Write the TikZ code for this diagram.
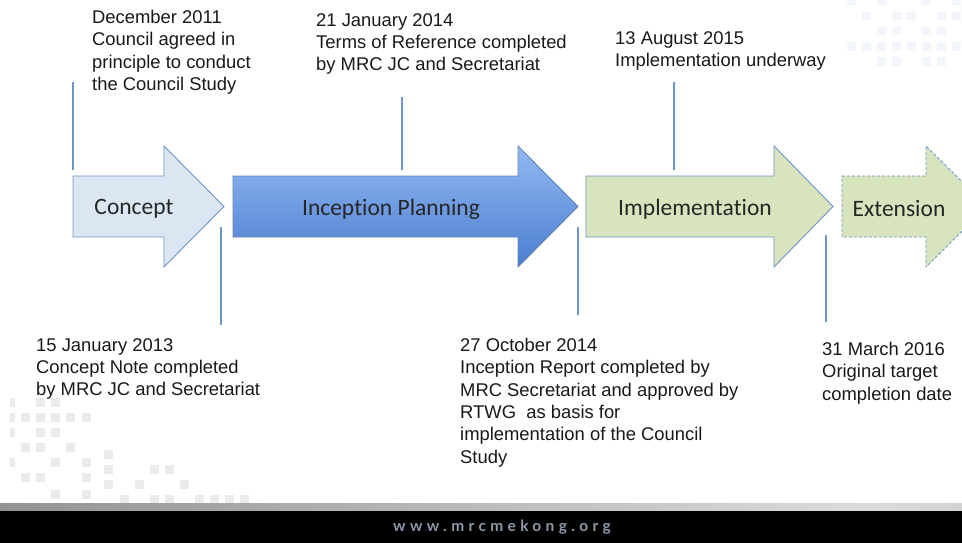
\documentclass[tikz,border=0pt]{standalone}
\usepackage{fontspec}
\setmainfont{Liberation Sans}
\newfontfamily\calib[Ligatures={NoCommon}]{Carlito}
\newfontfamily\footfont[LetterSpace=28]{Lato}
\definecolor{edgeblue}{HTML}{6E95C9}
\definecolor{conceptfill}{HTML}{DCE6F2}
\definecolor{greenfill}{HTML}{D7E4BD}
\definecolor{inctop}{HTML}{93B9F3}
\definecolor{incbot}{HTML}{4A7ECF}
\definecolor{footblue}{HTML}{8C9AAB}
\definecolor{sqgray}{HTML}{EBEBEB}
\definecolor{sqblue}{HTML}{F2F5FB}
\pgfdeclarehorizontalshading{barshade}{100bp}{color(0bp)=(black!58);color(70bp)=(black!14);color(100bp)=(black!35)}
\tikzset{
  stagearrow/.style={draw=edgeblue,line width=0.9pt,line join=miter},
  stagelabel/.style={font=\calib\fontsize{23.5}{28}\selectfont,text=black!85,inner sep=0},
  datenote/.style={font=\fontsize{18.4}{22.3}\selectfont,align=left,anchor=north west,inner sep=0,text=black!90},
  marker/.style={draw=edgeblue,line width=1.3pt},
}
\begin{document}
\begin{tikzpicture}[x=1pt,y=-1pt]
\useasboundingbox (0,0) rectangle (962,543);
\fill[white] (0,0) rectangle (962,543);
% decorative squares, bottom left
\foreach \px/\py/\w in {10/398/5,36/398/9,51/398/9,
  10/413/5,21/413/9,36/413/9,51/413/9,66/413/9,82/413/9,
  10/428/5,36/428/9,51/428/9,
  21/443/9,36/443/9,66/443/9,
  10/458/5,51/458/9,82/458/9,
  21/473/9,36/473/9,82/473/9,
  51/490/9,82/490/9,
  104/450/9,104/465/9,150/465/9,165/465/9,104/480/9,135/480/9,180/480/9,
  120/495/9,150/495/9,165/495/9,195/495/9,210/495/9,225/495/9,240/495/9}
  \fill[sqgray] (\px,\py) rectangle ++(\w,9);
% decorative squares, top right
\foreach \px/\py/\h in {847/0/5,877/0/5,922/0/5,952/0/5,
  862/12/8,892/12/8,907/12/8,937/12/8,952/12/8,
  877/27/8,892/27/8,922/27/8,937/27/8,
  847/42/9,862/42/9,877/42/9,892/42/9,907/42/9,922/42/9,937/42/9,952/42/9,
  877/57/9,892/57/9,922/57/9,937/57/9}
  \fill[sqblue] (\px,\py) rectangle ++(9,\h);
% stage arrows
\draw[stagearrow,fill=conceptfill] (73,176) -- (164,176) -- (164,146) -- (224,206.5) -- (164,267) -- (164,237) -- (73,237) -- cycle;
\draw[stagearrow,draw=edgeblue!90!black,top color=inctop,bottom color=incbot] (233,176) -- (518,176) -- (518,146) -- (578,206.5) -- (518,267) -- (518,237) -- (233,237) -- cycle;
\draw[stagearrow,fill=greenfill] (586,176) -- (774,176) -- (774,146) -- (833,206.5) -- (774,267) -- (774,237) -- (586,237) -- cycle;
\begin{scope}
\clip (0,0) rectangle (962,543);
\draw[stagearrow,fill=greenfill,dashed,dash pattern=on 3pt off 2pt] (842,176) -- (926,176) -- (926,146) -- (987,206.5) -- (926,267) -- (926,237) -- (842,237) -- cycle;
\end{scope}
\node[stagelabel] (concept) at (134,209) {Concept};
\node[stagelabel] (inception) at (391,209) {Incep\kern0pt tion Planning};
\node[stagelabel] (implementation) at (695,209) {Implementa\kern0pt tion};
\node[stagelabel] (extension) at (899,209) {Extension};
% marker lines
\coordinate (m1a) at (73,82);   \coordinate (m1b) at (73,170);
\coordinate (m2a) at (221,227); \coordinate (m2b) at (221,325);
\coordinate (m3a) at (402,97);  \coordinate (m3b) at (402,170);
\coordinate (m4a) at (578,227); \coordinate (m4b) at (578,315);
\coordinate (m5a) at (674,82);  \coordinate (m5b) at (674,170);
\coordinate (m6a) at (826,235); \coordinate (m6b) at (826,322);
\draw[marker] (m1a) -- (m1b);
\draw[marker] (m2a) -- (m2b);
\draw[marker] (m3a) -- (m3b);
\draw[marker] (m4a) -- (m4b);
\draw[marker] (m5a) -- (m5b);
\draw[marker] (m6a) -- (m6b);
% date notes
\node[datenote] (n1) at (92,10) {December 2011\\Council agreed in\\principle to conduct\\the Council Study};
\node[datenote] (n2) at (316,13) {21 January 2014\\Terms of Reference completed\\by MRC JC and Secretariat};
\node[datenote] (n3) at (615,31) {13 August 2015\\Implementation underway};
\node[datenote] (n4) at (36,338) {15 January 2013\\Concept Note completed\\by MRC JC and Secretariat};
\node[datenote] (n5) at (460,338) {27 October 2014\\Inception Report completed by\\MRC Secretariat and approved by\\RTWG\ \ as basis for\\implementation of the Council\\Study};
\node[datenote] (n6) at (822,342) {31 March 2016\\Original target\\completion date};
% footer
\shade[shading=barshade] (0,503) rectangle (962,511);
\fill[black] (0,511) rectangle (962,543);
\node[font=\footfont\bfseries\fontsize{15.5}{17}\selectfont,text=footblue,inner sep=0] (url) at (502,527) {www.mrcmekong.org};
\end{tikzpicture}
\end{document}
